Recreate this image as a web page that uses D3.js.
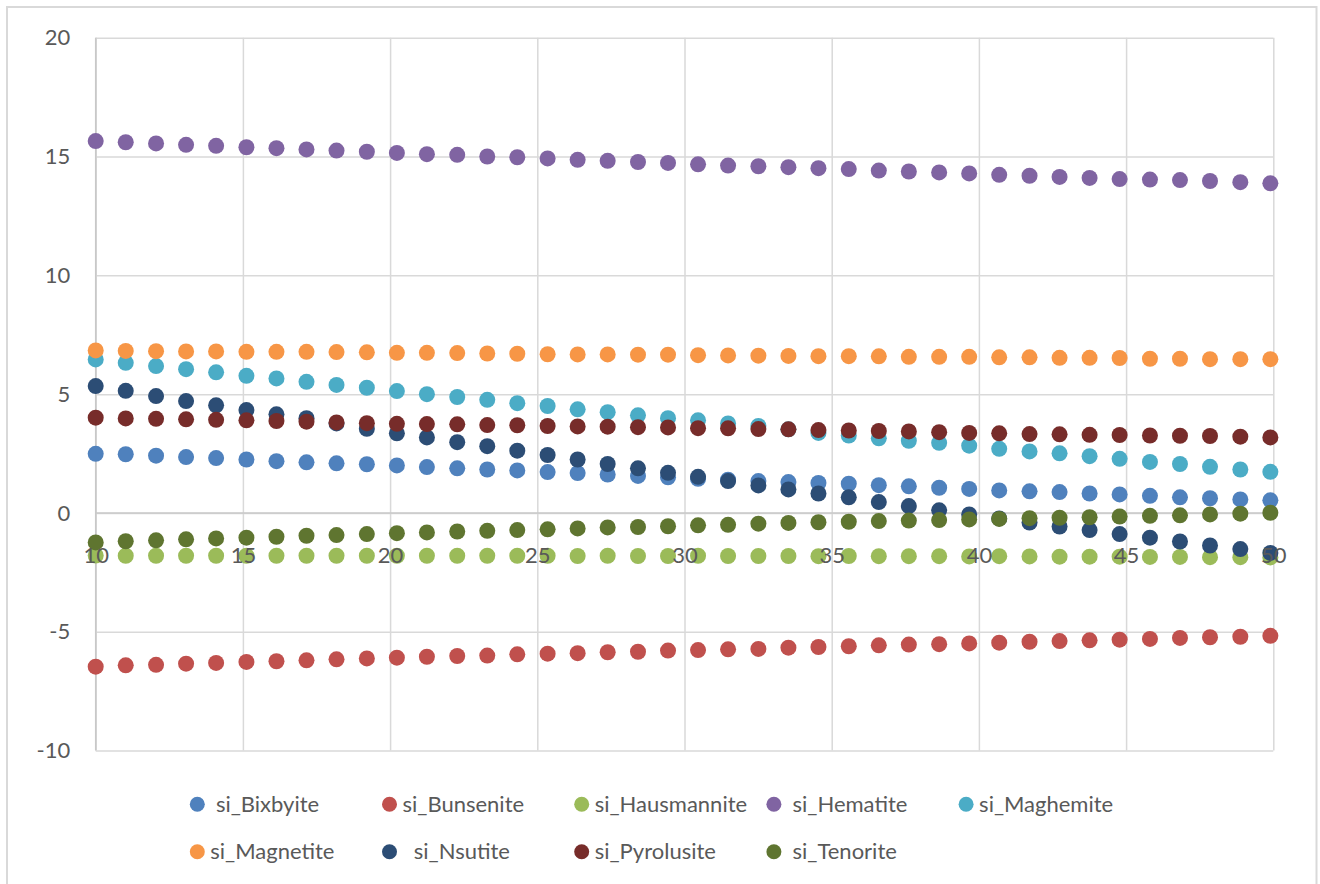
<!DOCTYPE html>
<html>
<head>
<meta charset="utf-8">
<script src="https://cdn.jsdelivr.net/npm/d3@7"></script>
<style>
  html, body { margin: 0; padding: 0; background: #ffffff; }
  svg { display: block; }
  text { font-family: Lato, "Open Sans", sans-serif; fill: #595959; }
  .legend text { white-space: pre; }
</style>
</head>
<body>
<svg id="chart" width="1320" height="884"></svg>
<script>
// x positions shared by every series
const xValues = [10.00, 11.02, 12.05, 13.07, 14.09, 15.12, 16.14, 17.16, 18.18, 19.21,
                 20.23, 21.25, 22.28, 23.30, 24.32, 25.35, 26.37, 27.39, 28.42, 29.44,
                 30.46, 31.48, 32.51, 33.53, 34.55, 35.58, 36.60, 37.62, 38.65, 39.67,
                 40.69, 41.72, 42.74, 43.76, 44.78, 45.81, 46.83, 47.85, 48.88, 49.90];

const siBixbyite = [2.49, 2.47, 2.41, 2.35, 2.31, 2.25, 2.18, 2.13, 2.09, 2.05,
                    2.00, 1.93, 1.88, 1.83, 1.79, 1.72, 1.68, 1.62, 1.56, 1.50,
                    1.44, 1.40, 1.34, 1.30, 1.26, 1.23, 1.17, 1.12, 1.06, 1.01,
                    0.95, 0.91, 0.88, 0.82, 0.78, 0.72, 0.66, 0.62, 0.57, 0.53];

const siBunsenite = [-6.47, -6.41, -6.39, -6.34, -6.31, -6.27, -6.24, -6.20, -6.16, -6.12,
                     -6.09, -6.05, -6.02, -6.00, -5.95, -5.92, -5.90, -5.86, -5.84, -5.79,
                     -5.77, -5.74, -5.72, -5.67, -5.64, -5.61, -5.57, -5.54, -5.52, -5.49,
                     -5.46, -5.42, -5.39, -5.36, -5.33, -5.30, -5.26, -5.23, -5.21, -5.17];

const siHausmannite = [-1.79, -1.80, -1.80, -1.80, -1.80, -1.80, -1.80, -1.80, -1.80, -1.80,
                       -1.80, -1.80, -1.80, -1.80, -1.80, -1.80, -1.81, -1.80, -1.81, -1.81,
                       -1.80, -1.81, -1.81, -1.81, -1.82, -1.81, -1.82, -1.82, -1.82, -1.83,
                       -1.82, -1.83, -1.84, -1.84, -1.84, -1.85, -1.85, -1.86, -1.86, -1.87];

const siHematite = [15.65, 15.60, 15.55, 15.49, 15.45, 15.39, 15.35, 15.30, 15.25, 15.20,
                    15.15, 15.10, 15.07, 15.00, 14.97, 14.92, 14.86, 14.82, 14.77, 14.73,
                    14.67, 14.62, 14.59, 14.55, 14.51, 14.47, 14.41, 14.37, 14.33, 14.29,
                    14.23, 14.19, 14.14, 14.10, 14.05, 14.03, 14.01, 13.97, 13.92, 13.87];

const siMaghemite = [6.46, 6.32, 6.18, 6.05, 5.92, 5.77, 5.66, 5.52, 5.39, 5.27,
                     5.13, 5.00, 4.88, 4.76, 4.62, 4.50, 4.36, 4.24, 4.11, 3.99,
                     3.90, 3.77, 3.66, 3.52, 3.37, 3.26, 3.14, 3.04, 2.95, 2.83,
                     2.70, 2.59, 2.51, 2.39, 2.28, 2.15, 2.06, 1.94, 1.83, 1.73];

const siMagnetite = [6.84, 6.82, 6.81, 6.80, 6.80, 6.78, 6.78, 6.78, 6.77, 6.76,
                     6.74, 6.74, 6.73, 6.71, 6.70, 6.68, 6.67, 6.67, 6.66, 6.66,
                     6.64, 6.63, 6.62, 6.61, 6.60, 6.60, 6.59, 6.57, 6.57, 6.57,
                     6.55, 6.55, 6.53, 6.53, 6.52, 6.49, 6.49, 6.47, 6.47, 6.47];

const siNsutite = [5.34, 5.14, 4.92, 4.71, 4.53, 4.33, 4.15, 3.99, 3.77, 3.54,
                   3.35, 3.18, 2.98, 2.81, 2.62, 2.44, 2.25, 2.06, 1.88, 1.69,
                   1.52, 1.34, 1.16, 0.99, 0.82, 0.66, 0.46, 0.29, 0.11, -0.06,
                   -0.23, -0.40, -0.57, -0.72, -0.89, -1.04, -1.20, -1.37, -1.52, -1.68];

const siPyrolusite = [4.01, 3.98, 3.96, 3.94, 3.92, 3.90, 3.87, 3.84, 3.81, 3.78,
                      3.75, 3.74, 3.73, 3.70, 3.69, 3.66, 3.64, 3.63, 3.61, 3.60,
                      3.57, 3.56, 3.53, 3.52, 3.49, 3.47, 3.45, 3.43, 3.40, 3.37,
                      3.35, 3.32, 3.31, 3.29, 3.28, 3.26, 3.25, 3.24, 3.21, 3.18];

const siTenorite = [-1.24, -1.19, -1.15, -1.11, -1.07, -1.04, -1.00, -0.96, -0.93, -0.89,
                    -0.85, -0.82, -0.78, -0.75, -0.72, -0.69, -0.65, -0.61, -0.59, -0.56,
                    -0.52, -0.50, -0.45, -0.42, -0.39, -0.37, -0.34, -0.32, -0.30, -0.27,
                    -0.25, -0.22, -0.20, -0.18, -0.15, -0.12, -0.10, -0.06, -0.03, 0.01];

// legend labels (leading spaces kept as in the source sheet)
const seriesNames = [" si_Bixbyite", "si_Bunsenite", "si_Hausmannite", " si_Hematite", "si_Maghemite",
                     "si_Magnetite", "  si_Nsutite", "si_Pyrolusite", " si_Tenorite"];
const seriesValues = [siBixbyite, siBunsenite, siHausmannite, siHematite, siMaghemite,
                      siMagnetite, siNsutite, siPyrolusite, siTenorite];
const seriesColors = ["#4F81BD", "#C0504D", "#9BBB59", "#8064A2", "#4BACC6",
                      "#F79646", "#2C4D75", "#772C2A", "#5F7530"];

const xTicks = [10, 15, 20, 25, 30, 35, 40, 45, 50];
const yTicks = [-10, -5, 0, 5, 10, 15, 20];

const plot = { left: 95.7, right: 1273.3, top: 37.7, bottom: 750.6 };
const labelSize = 22;
const svg = d3.select("#chart");

const x = d3.scaleLinear().domain([10, 50]).range([plot.left, plot.right]);
const y = d3.scaleLinear().domain([-10, 20]).range([plot.bottom, plot.top]);

// plain hyphen for negative numbers
const fmt = d => String(d);

// outer chart frame
svg.append("rect")
  .attr("x", 7).attr("y", 7)
  .attr("width", 1309.5).attr("height", 900)
  .attr("fill", "none").attr("stroke", "#d9d9d9").attr("stroke-width", 2);

// vertical gridlines
const vGrid = svg.append("g")
  .attr("transform", `translate(0,${plot.bottom})`)
  .call(d3.axisBottom(x).tickValues(xTicks).tickSize(-(plot.bottom - plot.top)).tickFormat(""));
vGrid.select(".domain").remove();
vGrid.selectAll("line").attr("stroke", "#d9d9d9").attr("stroke-width", 1.5);

// horizontal gridlines
const hGrid = svg.append("g")
  .attr("transform", `translate(${plot.left},0)`)
  .call(d3.axisLeft(y).tickValues(yTicks).tickSize(-(plot.right - plot.left)).tickFormat(""));
hGrid.select(".domain").remove();
hGrid.selectAll("line").attr("stroke", "#d9d9d9").attr("stroke-width", 1.5);

// axis lines: vertical axis at x = 10, horizontal axis crossing at y = 0
svg.append("line")
  .attr("x1", x(10)).attr("x2", x(10)).attr("y1", plot.top).attr("y2", plot.bottom)
  .attr("stroke", "#c8c8c8").attr("stroke-width", 1.5);
svg.append("line")
  .attr("x1", plot.left).attr("x2", plot.right).attr("y1", y(0)).attr("y2", y(0))
  .attr("stroke", "#c8c8c8").attr("stroke-width", 1.5);

// scatter markers, one group per series in legend order
seriesValues.forEach((vals, s) => {
  svg.append("g")
    .selectAll("circle")
    .data(vals)
    .join("circle")
    .attr("cx", (d, i) => x(xValues[i]))
    .attr("cy", d => y(d))
    .attr("r", 8)
    .attr("fill", seriesColors[s]);
});

// tick labels drawn above the markers
const yAxis = svg.append("g")
  .attr("transform", `translate(${plot.left},0)`)
  .call(d3.axisLeft(y).tickValues(yTicks).tickFormat(fmt).tickSize(0).tickPadding(25.5));
yAxis.select(".domain").remove();
yAxis.selectAll("text").attr("font-size", labelSize).attr("font-family", "Lato, sans-serif").attr("fill", "#595959");

const xAxis = svg.append("g")
  .attr("transform", `translate(0,${y(0)})`)
  .call(d3.axisBottom(x).tickValues(xTicks).tickFormat(fmt).tickSize(0).tickPadding(34.5));
xAxis.select(".domain").remove();
xAxis.selectAll("text").attr("font-size", labelSize).attr("font-family", "Lato, sans-serif").attr("fill", "#595959");

// legend: five columns, two rows
const legend = svg.append("g").attr("class", "legend");
const legendItem = legend.selectAll("g")
  .data(seriesNames)
  .join("g")
  .attr("transform", (d, i) => `translate(${197.3 + (i % 5) * 192.2},${804.3 + Math.floor(i / 5) * 47.4})`);
legendItem.append("circle")
  .attr("r", 7.5)
  .attr("fill", (d, i) => seriesColors[i]);
legendItem.append("text")
  .attr("x", 13)
  .attr("dy", "0.35em")
  .attr("font-size", labelSize)
  .attr("xml:space", "preserve")
  .text(d => d);
</script>
</body>
</html>
